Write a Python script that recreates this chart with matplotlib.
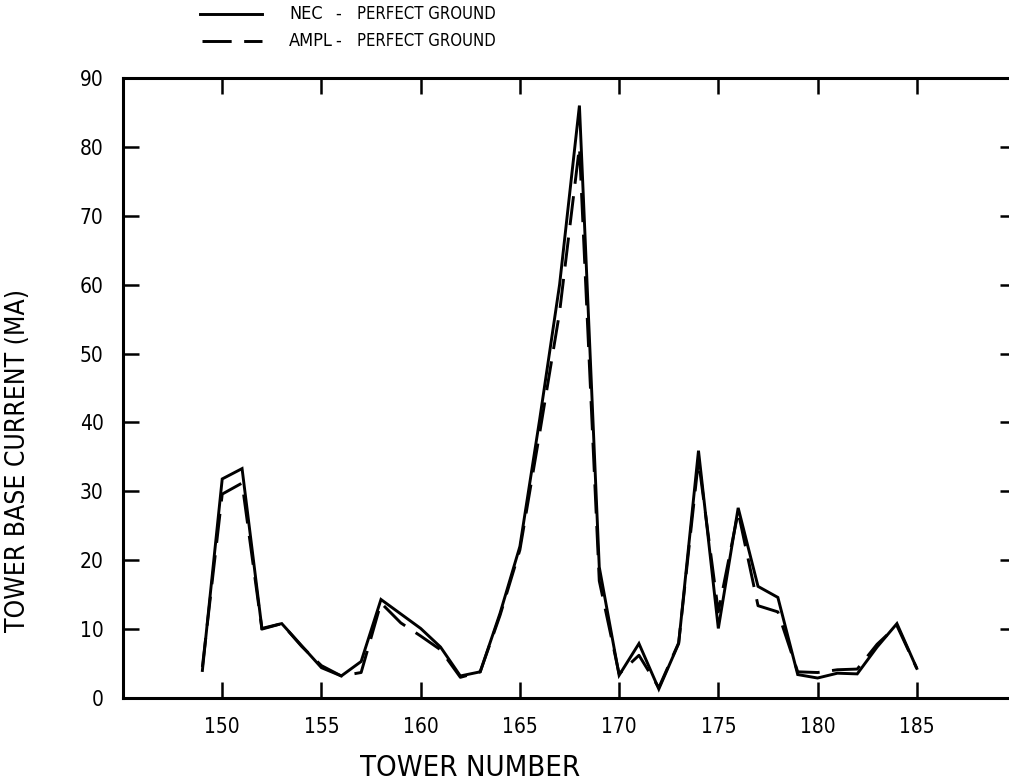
import matplotlib
matplotlib.use("Agg")
import matplotlib.pyplot as plt
from matplotlib.lines import Line2D

plt.rcParams['font.family'] = ['DejaVu Sans']
plt.rcParams['font.stretch'] = 'condensed'
plt.rcParams['lines.scale_dashes'] = False

# Tower base current along the line, towers 149-185
towers = list(range(149, 186))
nec = [4.0, 31.8, 33.3, 10.1, 10.8, 7.6, 4.4, 3.2, 5.3, 14.3,
       12.2, 10.1, 7.4, 3.2, 3.8, 12.3, 22.0, 40.5, 60.0, 86.0,
       19.0, 3.3, 7.9, 1.3, 7.9, 35.9, 10.1, 27.6, 16.2, 14.6,
       3.4, 2.9, 3.6, 3.5, 7.4, 10.8, 4.3]
ampl = [4.5, 29.6, 31.2, 10.0, 10.8, 7.5, 4.7, 3.2, 3.7, 13.8,
        10.9, 9.0, 7.0, 3.0, 3.8, 12.0, 21.5, 38.5, 56.0, 80.0,
        17.0, 3.5, 6.2, 1.5, 8.0, 34.5, 12.5, 27.0, 13.4, 12.5,
        3.8, 3.7, 4.1, 4.2, 7.8, 10.5, 4.3]

x_ticks = [150, 155, 160, 165, 170, 175, 180, 185]
y_ticks = [0, 10, 20, 30, 40, 50, 60, 70, 80, 90]

W, H = 1009, 782
fig = plt.figure(figsize=(W / 100, H / 100), dpi=100)
ax = fig.add_axes([123 / W, (H - 698) / H, (1016 - 123) / W, (698 - 78) / H])

dash = (21, 9)
ax.plot(towers, nec, color='black', lw=2.1, solid_joinstyle='miter')
ax.plot(towers, ampl, color='black', lw=2.1, linestyle=(0, dash))

ax.set_xlim(145, 190)
ax.set_ylim(0, 90)
ax.set_xticks(x_ticks)
ax.set_yticks(y_ticks)
ax.tick_params(direction='in', length=11.5, width=1.8, labelsize=15,
               top=True, right=True, color='black')
ax.tick_params(axis='x', pad=14)
ax.tick_params(axis='y', pad=14)
for s in ax.spines.values():
    s.set_linewidth(2.2)

fig.text(18 / W, 1 - 461 / H, 'TOWER BASE CURRENT (MA)', rotation=90,
         ha='center', va='center', fontsize=19)
fig.text(470 / W, 1 - 768 / H, 'TOWER NUMBER', ha='center', va='center',
         fontsize=21)

# Legend drawn above the axes
def fx(px):
    return px / W

def fy(py):
    return 1 - py / H

fig.add_artist(Line2D([fx(200), fx(262)], [fy(14), fy(14)], color='black',
                      lw=2.1, transform=fig.transFigure))
fig.add_artist(Line2D([fx(202), fx(262)], [fy(41), fy(41)], color='black',
                      lw=2.1, linestyle=(0, dash), transform=fig.transFigure))
for py, name in [(14, 'NEC'), (41, 'AMPL')]:
    fig.text(fx(289), fy(py), name, ha='left', va='center', fontsize=13)
    fig.text(fx(335), fy(py), '-', ha='left', va='center', fontsize=13)
    fig.text(fx(357), fy(py), 'PERFECT GROUND', ha='left', va='center',
             fontsize=12)

fig.savefig('out.png', dpi=100)
